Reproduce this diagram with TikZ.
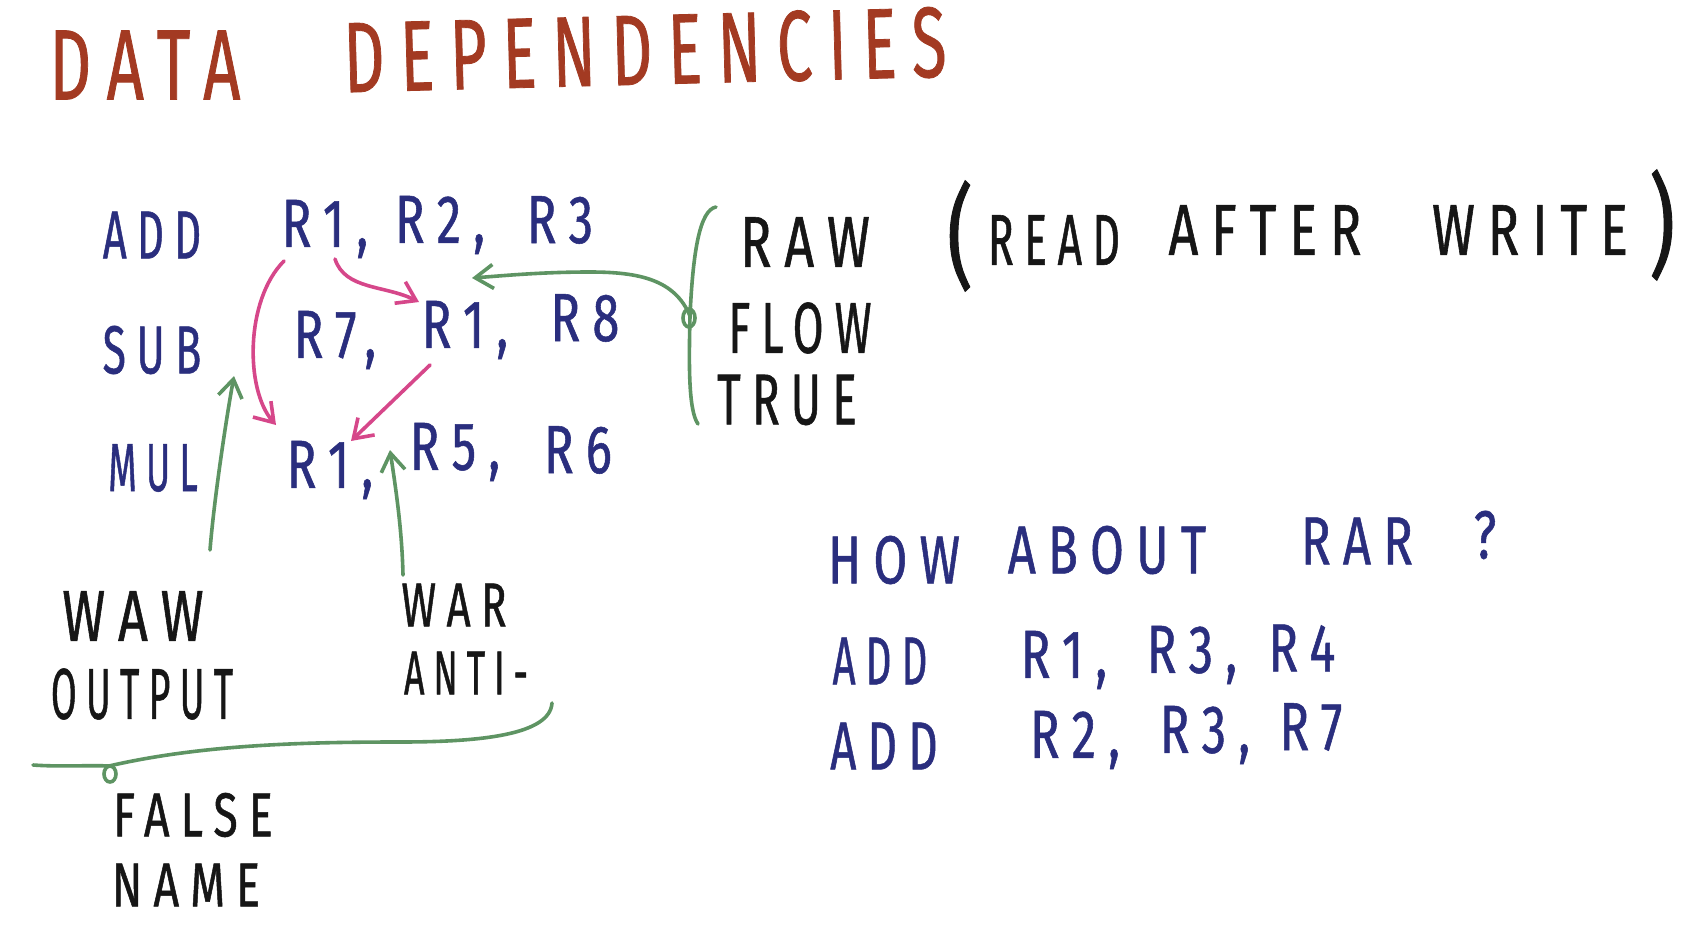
\documentclass[tikz,border=0pt]{standalone}
\usepackage{fontspec}
\newfontfamily\hand[FakeStretch=0.72,LetterSpace=18,FakeBold=0.8]{Fira Sans}
\usetikzlibrary{arrows.meta}
\definecolor{navy}{HTML}{2A2E7E}
\definecolor{rust}{HTML}{A33A22}
\definecolor{gr}{HTML}{5E9463}
\definecolor{pk}{HTML}{D6478A}
\definecolor{ink}{HTML}{161616}
\newcommand\sx[2]{\scalebox{#1}[1]{#2}}
\begin{document}
\begin{tikzpicture}[x=0.5pt,y=-0.5pt,
  code/.style={text=navy,font=\hand\fontsize{34}{36}\selectfont,inner sep=0},
  lab/.style={text=ink,font=\hand\fontsize{36}{38}\selectfont,inner sep=0},
  labs/.style={text=ink,font=\hand\fontsize{31}{33}\selectfont,inner sep=0},
  ttl/.style={text=rust,font=\hand\fontsize{50}{54}\selectfont,inner sep=0},
  gline/.style={draw=gr,line width=1.8pt,line cap=round},
  pline/.style={draw=pk,line width=1.8pt,line cap=round},
  tip/.style={-{Straight Barb[length=9pt,width=12pt,line width=1.8pt]}}
]
\useasboundingbox (0,0) rectangle (1708,947);
\fill[white] (0,0) rectangle (1708,947);
% title
\node[ttl] (tdata) at (145,65) {\sx{0.9}{DATA}};
\node[ttl,rotate=1.5] (tdep) at (645,50) {\sx{0.88}{DEPENDENCIES}};
% code block
\node[code] (add1) at (152,235) {\sx{0.85}{ADD}};
\node[code] (r1a) at (325,229) {R1,};
\node[code] (r2a) at (440,225) {R2,};
\node[code] (r3a) at (560,220) {R3};
\node[code] (sub) at (152,350) {\sx{0.87}{SUB}};
\node[code] (r7b) at (335,340) {R7,};
\node[code] (r1b) at (465,330) {R1,};
\node[code] (r8b) at (585,318) {R8};
\node[code] (mul) at (153,468) {\sx{0.75}{MUL}};
\node[code] (r1c) at (330,470) {R1,};
\node[code] (r5c) at (455,452) {R5,};
\node[code] (r6c) at (578,450) {R6};
% labels
\node[lab] (raw) at (805,242) {RAW};
\node[lab,font=\hand\fontsize{56}{60}\selectfont] (lp) at (960,236) {(};
\node[lab] (read) at (1054,240) {\sx{0.82}{READ}};
\node[lab] (after) at (1265,230) {AFTER};
\node[lab] (write) at (1530,230) {WRITE};
\node[lab,font=\hand\fontsize{56}{60}\selectfont] (rp) at (1662,225) {)};
\node[lab] (flow) at (800,328) {\sx{0.86}{FLOW}};
\node[lab] (true) at (787,400) {\sx{0.88}{TRUE}};
\node[lab] (waw) at (133,616) {WAW};
\node[lab] (output) at (142,694) {\sx{0.72}{OUTPUT}};
\node[labs] (war) at (454,605) {\sx{0.94}{WAR}};
\node[labs] (anti) at (466,673) {\sx{0.8}{ANTI-}};
\node[labs] (false) at (193,815) {FALSE};
\node[labs] (name) at (186,885) {NAME};
% RAR block
\node[code] (how) at (894,560) {HOW};
\node[code] (about) at (1107,550) {ABOUT};
\node[code] (rar) at (1357,541) {RAR};
\node[code] (q) at (1485,535) {?};
\node[code] (add2) at (880,661) {\sx{0.82}{ADD}};
\node[code] (r1d) at (1064,660) {R1,};
\node[code] (r3d) at (1192,655) {R3,};
\node[code] (r4d) at (1302,648) {R4};
\node[code] (add3) at (884,746) {\sx{0.93}{ADD}};
\node[code] (r2e) at (1075,740) {R2,};
\node[code] (r3e) at (1205,735) {R3,};
\node[code] (r7e) at (1311,727) {R7};
% coordinates
\coordinate (brtop) at (716,207);
\coordinate (brmid) at (690,316);
\coordinate (brbot) at (698,424);
\coordinate (rawtip) at (472,278);
\coordinate (wawtail) at (210,550);
\coordinate (wawtip) at (234,376);
\coordinate (wartail) at (403,575);
\coordinate (wartip) at (390,450);
\coordinate (bl) at (33,765);
\coordinate (bloop) at (109,766);
\coordinate (br) at (552,703);
\coordinate (p1s) at (284,261);
\coordinate (p1e) at (276,425);
\coordinate (p2s) at (335,259);
\coordinate (p2e) at (419,302);
\coordinate (p3s) at (430,365);
\coordinate (p3e) at (351,441);
% right brace
\draw[gline] (brtop) .. controls (700,210) and (693,250) .. (brmid) .. controls (689,360) and (688,410) .. (brbot);
\draw[gline] (brmid) ++(-1,2) circle [x radius=6, y radius=9];
\draw[gline,tip] (brmid) .. controls (675,280) and (640,272) .. (590,272) .. controls (540,272) and (500,276) .. (rawtip);
% WAW / WAR arrows
\draw[gline,tip] (wawtail) .. controls (214,500) and (226,420) .. (wawtip);
\draw[gline,tip] (wartail) .. controls (402,530) and (396,490) .. (wartip);
% bottom brace
\draw[gline] (bl) .. controls (60,767) and (90,765) .. (bloop) .. controls (200,745) and (300,742) .. (400,742) .. controls (480,742) and (550,735) .. (br);
\draw[gline] (bloop) ++(1,8) circle [x radius=6, y radius=8];
% pink arrows
\draw[pline,tip] (p1s) .. controls (245,300) and (245,390) .. (p1e);
\draw[pline,tip] (p2s) .. controls (345,290) and (385,285) .. (p2e);
\draw[pline,tip] (p3s) -- (p3e);
\end{tikzpicture}
\end{document}
